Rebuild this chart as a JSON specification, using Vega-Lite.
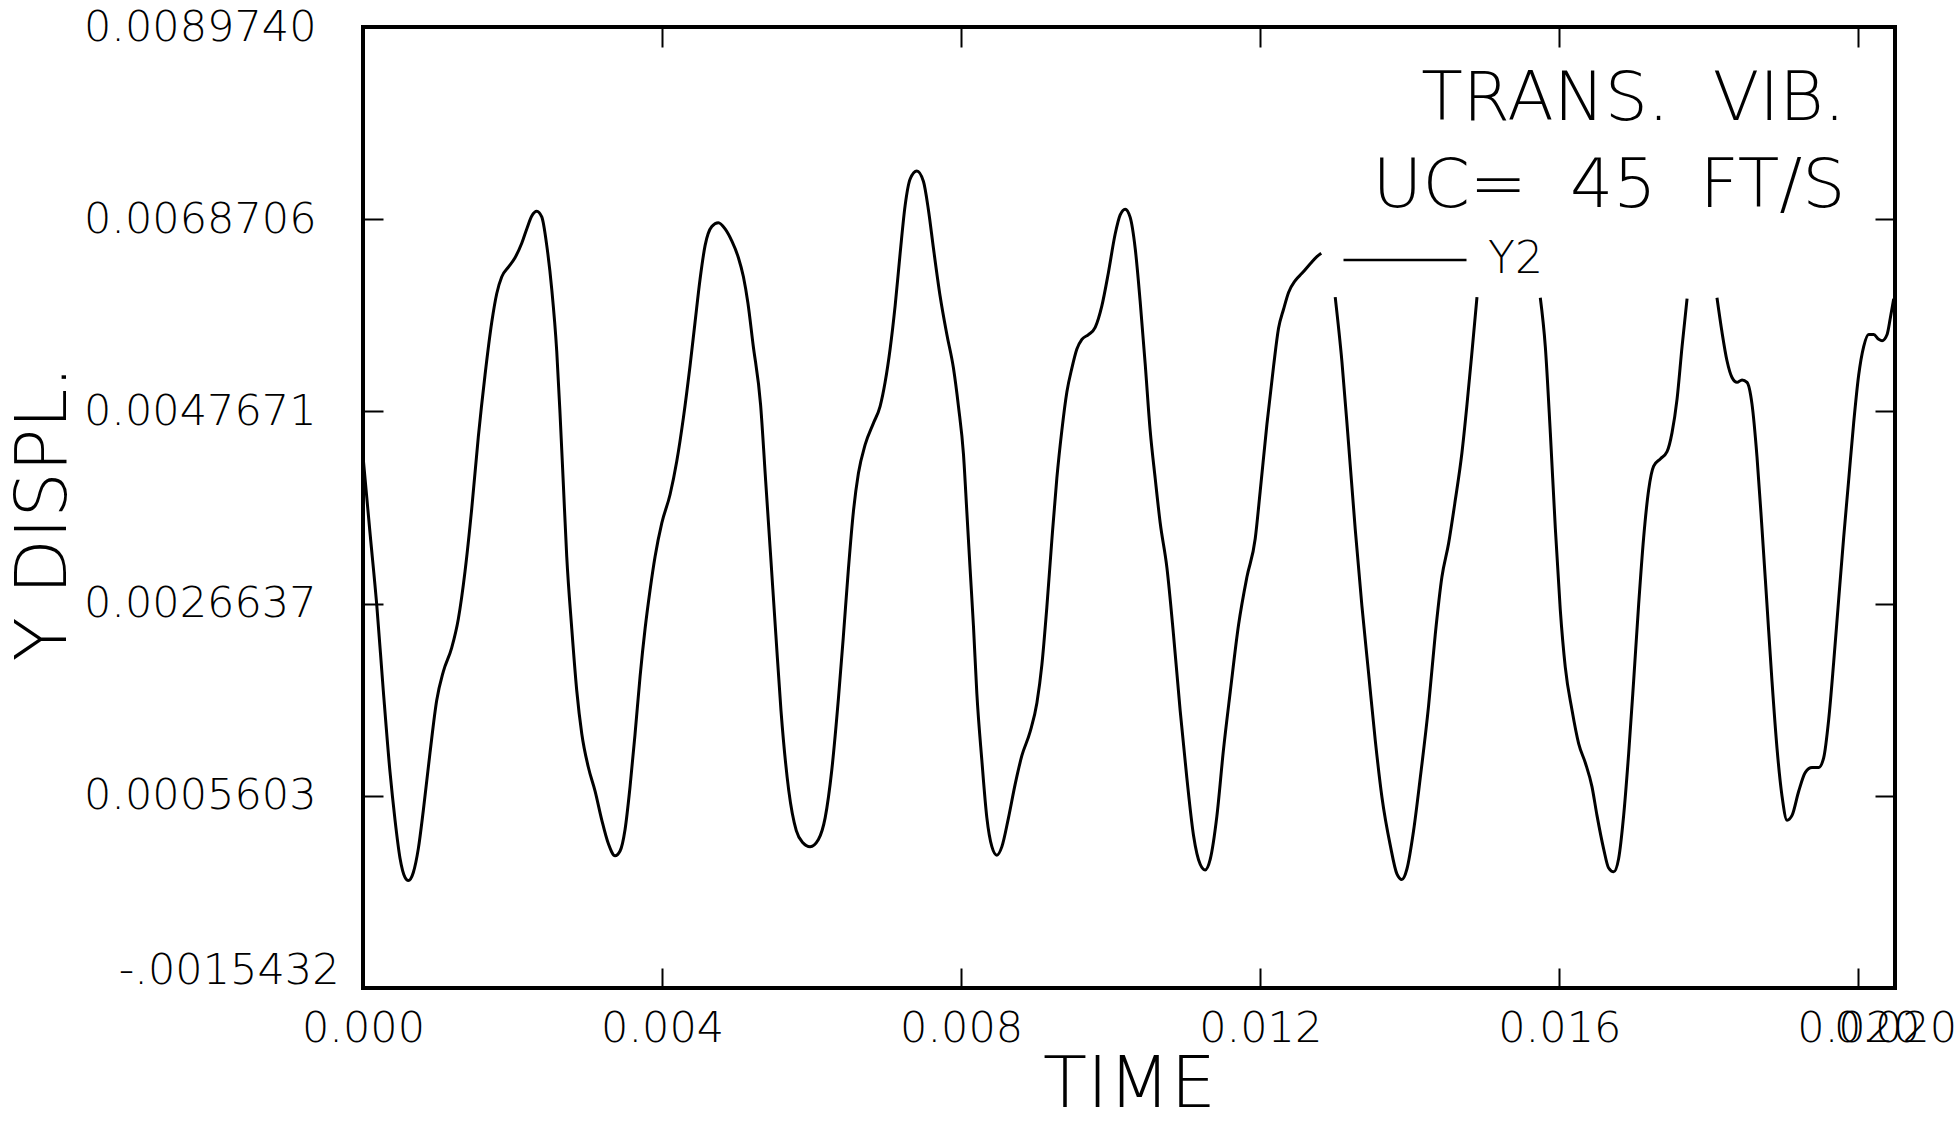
{
  "$schema": "https://vega.github.io/schema/vega-lite/v6.json",
  "width": 1532,
  "height": 961,
  "autosize": {"type": "none"},
  "padding": {"left": 363, "top": 27, "right": 61, "bottom": 133},
  "background": "white",
  "config": {
    "view": {"stroke": "black", "strokeWidth": 4},
    "font": "DejaVu Sans"
  },
  "resolve": {"axis": {"x": "independent", "y": "independent"}},
  "layer": [
    {
      "data": {"values": [
        {"t":0,"y":0.004277,"seg":1,"s":"Y2"},{"t":0.0000936,"y":0.003439,"seg":1,"s":"Y2"},{"t":0.0001833,"y":0.002654,"seg":1,"s":"Y2"},{"t":0.0002716,"y":0.00171,"seg":1,"s":"Y2"},{"t":0.0003612,"y":0.000821,"seg":1,"s":"Y2"},{"t":0.0004281,"y":0.000297,"seg":1,"s":"Y2"},{"t":0.000495,"y":-0.000122,"seg":1,"s":"Y2"},{"t":0.0005619,"y":-0.000332,"seg":1,"s":"Y2"},{"t":0.000606,"y":-0.000368,"seg":1,"s":"Y2"},{"t":0.000673,"y":-0.000279,"seg":1,"s":"Y2"},{"t":0.00074,"y":-0.000018,"seg":1,"s":"Y2"},{"t":0.000807,"y":0.000402,"seg":1,"s":"Y2"},{"t":0.000896,"y":0.00103,"seg":1,"s":"Y2"},{"t":0.000986,"y":0.001606,"seg":1,"s":"Y2"},{"t":0.001074,"y":0.00192,"seg":1,"s":"Y2"},{"t":0.001187,"y":0.002182,"seg":1,"s":"Y2"},{"t":0.001275,"y":0.002496,"seg":1,"s":"Y2"},{"t":0.001365,"y":0.003019,"seg":1,"s":"Y2"},{"t":0.001454,"y":0.0037,"seg":1,"s":"Y2"},{"t":0.001542,"y":0.004486,"seg":1,"s":"Y2"},{"t":0.001632,"y":0.005166,"seg":1,"s":"Y2"},{"t":0.001722,"y":0.005743,"seg":1,"s":"Y2"},{"t":0.001789,"y":0.006057,"seg":1,"s":"Y2"},{"t":0.001856,"y":0.00624,"seg":1,"s":"Y2"},{"t":0.001944,"y":0.006345,"seg":1,"s":"Y2"},{"t":0.002033,"y":0.006449,"seg":1,"s":"Y2"},{"t":0.002123,"y":0.006607,"seg":1,"s":"Y2"},{"t":0.00219,"y":0.006764,"seg":1,"s":"Y2"},{"t":0.002257,"y":0.006906,"seg":1,"s":"Y2"},{"t":0.002324,"y":0.006958,"seg":1,"s":"Y2"},{"t":0.002391,"y":0.006895,"seg":1,"s":"Y2"},{"t":0.002458,"y":0.006581,"seg":1,"s":"Y2"},{"t":0.002524,"y":0.006109,"seg":1,"s":"Y2"},{"t":0.002591,"y":0.005428,"seg":1,"s":"Y2"},{"t":0.002635,"y":0.004747,"seg":1,"s":"Y2"},{"t":0.00268,"y":0.003963,"seg":1,"s":"Y2"},{"t":0.002725,"y":0.003177,"seg":1,"s":"Y2"},{"t":0.002792,"y":0.002391,"seg":1,"s":"Y2"},{"t":0.002859,"y":0.00171,"seg":1,"s":"Y2"},{"t":0.002926,"y":0.00124,"seg":1,"s":"Y2"},{"t":0.003014,"y":0.000873,"seg":1,"s":"Y2"},{"t":0.003104,"y":0.000612,"seg":1,"s":"Y2"},{"t":0.003193,"y":0.000297,"seg":1,"s":"Y2"},{"t":0.003282,"y":0.000035,"seg":1,"s":"Y2"},{"t":0.003371,"y":-0.000096,"seg":1,"s":"Y2"},{"t":0.003438,"y":-0.000044,"seg":1,"s":"Y2"},{"t":0.003505,"y":0.000192,"seg":1,"s":"Y2"},{"t":0.003572,"y":0.000663,"seg":1,"s":"Y2"},{"t":0.003639,"y":0.00124,"seg":1,"s":"Y2"},{"t":0.003706,"y":0.001868,"seg":1,"s":"Y2"},{"t":0.003773,"y":0.002391,"seg":1,"s":"Y2"},{"t":0.003839,"y":0.00281,"seg":1,"s":"Y2"},{"t":0.003906,"y":0.003177,"seg":1,"s":"Y2"},{"t":0.003996,"y":0.003544,"seg":1,"s":"Y2"},{"t":0.004107,"y":0.003858,"seg":1,"s":"Y2"},{"t":0.004197,"y":0.004224,"seg":1,"s":"Y2"},{"t":0.004285,"y":0.004696,"seg":1,"s":"Y2"},{"t":0.004375,"y":0.005272,"seg":1,"s":"Y2"},{"t":0.004441,"y":0.005743,"seg":1,"s":"Y2"},{"t":0.004508,"y":0.006214,"seg":1,"s":"Y2"},{"t":0.004575,"y":0.006581,"seg":1,"s":"Y2"},{"t":0.004665,"y":0.00679,"seg":1,"s":"Y2"},{"t":0.004753,"y":0.006832,"seg":1,"s":"Y2"},{"t":0.004843,"y":0.006764,"seg":1,"s":"Y2"},{"t":0.004932,"y":0.006633,"seg":1,"s":"Y2"},{"t":0.005021,"y":0.006449,"seg":1,"s":"Y2"},{"t":0.005088,"y":0.006240,"seg":1,"s":"Y2"},{"t":0.005148,"y":0.005953,"seg":1,"s":"Y2"},{"t":0.005216,"y":0.005505,"seg":1,"s":"Y2"},{"t":0.005318,"y":0.004837,"seg":1,"s":"Y2"},{"t":0.005386,"y":0.004,"seg":1,"s":"Y2"},{"t":0.005454,"y":0.003163,"seg":1,"s":"Y2"},{"t":0.005522,"y":0.00232,"seg":1,"s":"Y2"},{"t":0.005591,"y":0.001488,"seg":1,"s":"Y2"},{"t":0.005694,"y":0.00062,"seg":1,"s":"Y2"},{"t":0.005795,"y":0.00018,"seg":1,"s":"Y2"},{"t":0.00588,"y":0.00005,"seg":1,"s":"Y2"},{"t":0.00598,"y":0.000004,"seg":1,"s":"Y2"},{"t":0.006091,"y":0.000083,"seg":1,"s":"Y2"},{"t":0.006181,"y":0.000319,"seg":1,"s":"Y2"},{"t":0.00627,"y":0.000843,"seg":1,"s":"Y2"},{"t":0.006359,"y":0.001628,"seg":1,"s":"Y2"},{"t":0.006425,"y":0.002309,"seg":1,"s":"Y2"},{"t":0.006492,"y":0.003041,"seg":1,"s":"Y2"},{"t":0.006559,"y":0.003671,"seg":1,"s":"Y2"},{"t":0.006626,"y":0.004089,"seg":1,"s":"Y2"},{"t":0.006716,"y":0.004403,"seg":1,"s":"Y2"},{"t":0.006827,"y":0.004639,"seg":1,"s":"Y2"},{"t":0.006916,"y":0.004822,"seg":1,"s":"Y2"},{"t":0.006983,"y":0.005085,"seg":1,"s":"Y2"},{"t":0.00705,"y":0.00545,"seg":1,"s":"Y2"},{"t":0.007117,"y":0.005922,"seg":1,"s":"Y2"},{"t":0.007184,"y":0.006497,"seg":1,"s":"Y2"},{"t":0.007251,"y":0.007022,"seg":1,"s":"Y2"},{"t":0.007318,"y":0.00731,"seg":1,"s":"Y2"},{"t":0.007407,"y":0.007398,"seg":1,"s":"Y2"},{"t":0.007496,"y":0.007283,"seg":1,"s":"Y2"},{"t":0.007563,"y":0.006969,"seg":1,"s":"Y2"},{"t":0.00763,"y":0.00655,"seg":1,"s":"Y2"},{"t":0.007719,"y":0.006027,"seg":1,"s":"Y2"},{"t":0.007809,"y":0.005608,"seg":1,"s":"Y2"},{"t":0.007897,"y":0.005241,"seg":1,"s":"Y2"},{"t":0.007964,"y":0.004822,"seg":1,"s":"Y2"},{"t":0.008031,"y":0.004299,"seg":1,"s":"Y2"},{"t":0.008076,"y":0.003671,"seg":1,"s":"Y2"},{"t":0.00812,"y":0.003041,"seg":1,"s":"Y2"},{"t":0.008165,"y":0.002413,"seg":1,"s":"Y2"},{"t":0.00821,"y":0.00168,"seg":1,"s":"Y2"},{"t":0.008277,"y":0.000948,"seg":1,"s":"Y2"},{"t":0.008344,"y":0.000319,"seg":1,"s":"Y2"},{"t":0.008411,"y":0.000004,"seg":1,"s":"Y2"},{"t":0.008478,"y":-0.00009,"seg":1,"s":"Y2"},{"t":0.008545,"y":0.000004,"seg":1,"s":"Y2"},{"t":0.008633,"y":0.000319,"seg":1,"s":"Y2"},{"t":0.008722,"y":0.000685,"seg":1,"s":"Y2"},{"t":0.008812,"y":0.000999,"seg":1,"s":"Y2"},{"t":0.008923,"y":0.001262,"seg":1,"s":"Y2"},{"t":0.009013,"y":0.001576,"seg":1,"s":"Y2"},{"t":0.00908,"y":0.001995,"seg":1,"s":"Y2"},{"t":0.009146,"y":0.002623,"seg":1,"s":"Y2"},{"t":0.009213,"y":0.003357,"seg":1,"s":"Y2"},{"t":0.00928,"y":0.004037,"seg":1,"s":"Y2"},{"t":0.009347,"y":0.00456,"seg":1,"s":"Y2"},{"t":0.009414,"y":0.00498,"seg":1,"s":"Y2"},{"t":0.009481,"y":0.005241,"seg":1,"s":"Y2"},{"t":0.009548,"y":0.00545,"seg":1,"s":"Y2"},{"t":0.009615,"y":0.005555,"seg":1,"s":"Y2"},{"t":0.009703,"y":0.005608,"seg":1,"s":"Y2"},{"t":0.009793,"y":0.005687,"seg":1,"s":"Y2"},{"t":0.009882,"y":0.005922,"seg":1,"s":"Y2"},{"t":0.00997,"y":0.006288,"seg":1,"s":"Y2"},{"t":0.01006,"y":0.006708,"seg":1,"s":"Y2"},{"t":0.010127,"y":0.006917,"seg":1,"s":"Y2"},{"t":0.010194,"y":0.00698,"seg":1,"s":"Y2"},{"t":0.010261,"y":0.00689,"seg":1,"s":"Y2"},{"t":0.010328,"y":0.00655,"seg":1,"s":"Y2"},{"t":0.010394,"y":0.005974,"seg":1,"s":"Y2"},{"t":0.010461,"y":0.005294,"seg":1,"s":"Y2"},{"t":0.010528,"y":0.00456,"seg":1,"s":"Y2"},{"t":0.010595,"y":0.004037,"seg":1,"s":"Y2"},{"t":0.010662,"y":0.003548,"seg":1,"s":"Y2"},{"t":0.010752,"y":0.003057,"seg":1,"s":"Y2"},{"t":0.01084,"y":0.002325,"seg":1,"s":"Y2"},{"t":0.01093,"y":0.001487,"seg":1,"s":"Y2"},{"t":0.011019,"y":0.000753,"seg":1,"s":"Y2"},{"t":0.011108,"y":0.000126,"seg":1,"s":"Y2"},{"t":0.011197,"y":-0.000189,"seg":1,"s":"Y2"},{"t":0.011264,"y":-0.000251,"seg":1,"s":"Y2"},{"t":0.011331,"y":-0.000136,"seg":1,"s":"Y2"},{"t":0.01142,"y":0.000335,"seg":1,"s":"Y2"},{"t":0.011509,"y":0.001068,"seg":1,"s":"Y2"},{"t":0.011599,"y":0.001696,"seg":1,"s":"Y2"},{"t":0.01171,"y":0.002429,"seg":1,"s":"Y2"},{"t":0.011822,"y":0.002954,"seg":1,"s":"Y2"},{"t":0.011933,"y":0.003373,"seg":1,"s":"Y2"},{"t":0.012,"y":0.003896,"seg":1,"s":"Y2"},{"t":0.01209,"y":0.004629,"seg":1,"s":"Y2"},{"t":0.012178,"y":0.005257,"seg":1,"s":"Y2"},{"t":0.012245,"y":0.005676,"seg":1,"s":"Y2"},{"t":0.012312,"y":0.005885,"seg":1,"s":"Y2"},{"t":0.012379,"y":0.006069,"seg":1,"s":"Y2"},{"t":0.012468,"y":0.006199,"seg":1,"s":"Y2"},{"t":0.012558,"y":0.006278,"seg":1,"s":"Y2"},{"t":0.012669,"y":0.006383,"seg":1,"s":"Y2"},{"t":0.012758,"y":0.006462,"seg":1,"s":"Y2"},{"t":0.012816,"y":0.006498,"seg":1,"s":"Y2"},
        {"t":0.013003,"y":0.006017,"seg":2,"s":"Y2"},{"t":0.013093,"y":0.00531,"seg":2,"s":"Y2"},{"t":0.013181,"y":0.004419,"seg":2,"s":"Y2"},{"t":0.013271,"y":0.003477,"seg":2,"s":"Y2"},{"t":0.01336,"y":0.002639,"seg":2,"s":"Y2"},{"t":0.013449,"y":0.001906,"seg":2,"s":"Y2"},{"t":0.013538,"y":0.001173,"seg":2,"s":"Y2"},{"t":0.013628,"y":0.000545,"seg":2,"s":"Y2"},{"t":0.013739,"y":0.00002,"seg":2,"s":"Y2"},{"t":0.013828,"y":-0.000294,"seg":2,"s":"Y2"},{"t":0.013895,"y":-0.000356,"seg":2,"s":"Y2"},{"t":0.013962,"y":-0.000241,"seg":2,"s":"Y2"},{"t":0.014051,"y":0.000178,"seg":2,"s":"Y2"},{"t":0.01414,"y":0.000753,"seg":2,"s":"Y2"},{"t":0.014251,"y":0.001539,"seg":2,"s":"Y2"},{"t":0.014341,"y":0.002325,"seg":2,"s":"Y2"},{"t":0.01443,"y":0.002954,"seg":2,"s":"Y2"},{"t":0.014519,"y":0.00332,"seg":2,"s":"Y2"},{"t":0.014608,"y":0.003791,"seg":2,"s":"Y2"},{"t":0.014698,"y":0.004315,"seg":2,"s":"Y2"},{"t":0.014765,"y":0.004838,"seg":2,"s":"Y2"},{"t":0.014832,"y":0.005415,"seg":2,"s":"Y2"},{"t":0.014899,"y":0.006017,"seg":2,"s":"Y2"},
        {"t":0.015746,"y":0.006011,"seg":3,"s":"Y2"},{"t":0.015813,"y":0.005477,"seg":3,"s":"Y2"},{"t":0.01588,"y":0.004535,"seg":3,"s":"Y2"},{"t":0.015947,"y":0.003488,"seg":3,"s":"Y2"},{"t":0.016013,"y":0.002598,"seg":3,"s":"Y2"},{"t":0.01608,"y":0.001969,"seg":3,"s":"Y2"},{"t":0.01617,"y":0.001498,"seg":3,"s":"Y2"},{"t":0.016259,"y":0.001131,"seg":3,"s":"Y2"},{"t":0.016348,"y":0.000922,"seg":3,"s":"Y2"},{"t":0.016437,"y":0.000661,"seg":3,"s":"Y2"},{"t":0.016504,"y":0.000346,"seg":3,"s":"Y2"},{"t":0.016593,"y":-0.00002,"seg":3,"s":"Y2"},{"t":0.01666,"y":-0.00023,"seg":3,"s":"Y2"},{"t":0.016727,"y":-0.000272,"seg":3,"s":"Y2"},{"t":0.016794,"y":-0.000125,"seg":3,"s":"Y2"},{"t":0.016861,"y":0.000346,"seg":3,"s":"Y2"},{"t":0.016928,"y":0.001026,"seg":3,"s":"Y2"},{"t":0.016994,"y":0.001812,"seg":3,"s":"Y2"},{"t":0.017061,"y":0.00265,"seg":3,"s":"Y2"},{"t":0.017128,"y":0.003384,"seg":3,"s":"Y2"},{"t":0.017195,"y":0.003907,"seg":3,"s":"Y2"},{"t":0.017262,"y":0.004168,"seg":3,"s":"Y2"},{"t":0.017351,"y":0.004247,"seg":3,"s":"Y2"},{"t":0.017441,"y":0.004326,"seg":3,"s":"Y2"},{"t":0.017508,"y":0.004535,"seg":3,"s":"Y2"},{"t":0.017575,"y":0.004901,"seg":3,"s":"Y2"},{"t":0.017642,"y":0.005477,"seg":3,"s":"Y2"},{"t":0.017709,"y":0.006001,"seg":3,"s":"Y2"},
        {"t":0.018109,"y":0.006011,"seg":4,"s":"Y2"},{"t":0.018176,"y":0.005635,"seg":4,"s":"Y2"},{"t":0.018243,"y":0.005321,"seg":4,"s":"Y2"},{"t":0.01831,"y":0.005138,"seg":4,"s":"Y2"},{"t":0.018377,"y":0.005085,"seg":4,"s":"Y2"},{"t":0.018444,"y":0.005112,"seg":4,"s":"Y2"},{"t":0.018511,"y":0.005085,"seg":4,"s":"Y2"},{"t":0.018577,"y":0.004849,"seg":4,"s":"Y2"},{"t":0.018644,"y":0.004273,"seg":4,"s":"Y2"},{"t":0.018711,"y":0.003488,"seg":4,"s":"Y2"},{"t":0.018778,"y":0.00265,"seg":4,"s":"Y2"},{"t":0.018845,"y":0.001812,"seg":4,"s":"Y2"},{"t":0.018912,"y":0.001079,"seg":4,"s":"Y2"},{"t":0.018979,"y":0.000556,"seg":4,"s":"Y2"},{"t":0.019046,"y":0.000294,"seg":4,"s":"Y2"},{"t":0.019113,"y":0.000346,"seg":4,"s":"Y2"},{"t":0.019201,"y":0.000608,"seg":4,"s":"Y2"},{"t":0.019291,"y":0.000817,"seg":4,"s":"Y2"},{"t":0.01938,"y":0.00087,"seg":4,"s":"Y2"},{"t":0.019469,"y":0.00087,"seg":4,"s":"Y2"},{"t":0.019536,"y":0.000975,"seg":4,"s":"Y2"},{"t":0.019603,"y":0.001393,"seg":4,"s":"Y2"},{"t":0.01967,"y":0.002022,"seg":4,"s":"Y2"},{"t":0.019736,"y":0.002703,"seg":4,"s":"Y2"},{"t":0.019803,"y":0.003384,"seg":4,"s":"Y2"},{"t":0.01987,"y":0.004012,"seg":4,"s":"Y2"},{"t":0.019937,"y":0.00464,"seg":4,"s":"Y2"},{"t":0.020004,"y":0.005163,"seg":4,"s":"Y2"},{"t":0.020071,"y":0.005477,"seg":4,"s":"Y2"},{"t":0.020138,"y":0.005609,"seg":4,"s":"Y2"},{"t":0.020205,"y":0.005609,"seg":4,"s":"Y2"},{"t":0.020272,"y":0.005556,"seg":4,"s":"Y2"},{"t":0.020317,"y":0.00554,"seg":4,"s":"Y2"},{"t":0.020384,"y":0.005609,"seg":4,"s":"Y2"},{"t":0.020428,"y":0.005792,"seg":4,"s":"Y2"},{"t":0.020473,"y":0.006001,"seg":4,"s":"Y2"}
      ]},
      "mark": {"type": "line", "interpolate": "monotone", "strokeWidth": 3},
      "encoding": {
        "x": {
          "field": "t", "type": "quantitative",
          "scale": {"domain": [0, 0.02049], "nice": false, "zero": false},
          "axis": {
            "orient": "bottom",
            "values": [0, 0.004, 0.008, 0.012, 0.016, 0.02, 0.02049],
            "format": ".3f",
            "title": "TIME",
            "domain": false, "grid": false,
            "tickSize": -20, "tickWidth": 2, "tickColor": "black",
            "labelFont": "DejaVu Sans", "labelFontSize": 43, "labelFontWeight": 200, "labelColor": "black",
            "labelPadding": 39, "labelFlush": false, "labelOverlap": false, "labelLimit": 400,
            "titleFont": "DejaVu Sans", "titleFontSize": 72, "titleFontWeight": 200, "titleColor": "black",
            "titleBaseline": "alphabetic", "titleY": 118
          }
        },
        "y": {
          "field": "y", "type": "quantitative",
          "scale": {"domain": [-0.0015432, 0.008974], "nice": false, "zero": false},
          "axis": {
            "orient": "left",
            "values": [-0.0015432, 0.0005603, 0.0026637, 0.0047671, 0.0068706, 0.008974],
            "labelExpr": "datum.value < 0 ? '-' + substring(format(-datum.value, '.7f'), 1) : format(datum.value, '.7f')",
            "title": "Y DISPL.",
            "domain": false, "grid": false,
            "tickSize": -20, "tickWidth": 2, "tickColor": "black",
            "labelFont": "DejaVu Sans", "labelFontSize": 43, "labelFontWeight": 200, "labelColor": "black",
            "labelPadding": {"condition": {"test": "datum.value < 0", "value": 44}, "value": 67},
            "labelOffset": {"condition": {"test": "datum.value < 0", "value": -18}, "value": 0},
            "labelFlush": false, "labelOverlap": false, "labelLimit": 400,
            "titleFont": "DejaVu Sans", "titleFontSize": 72, "titleFontWeight": 200, "titleColor": "black",
            "titleAngle": 270, "titleAlign": "center", "titleBaseline": "alphabetic",
            "titleX": -298, "titleY": 486
          }
        },
        "color": {
          "field": "s", "type": "nominal",
          "scale": {"range": ["black"]},
          "legend": {
            "orient": "none", "legendX": 979, "legendY": 170, "title": null,
            "symbolType": "stroke", "symbolSize": 15129, "symbolStrokeWidth": 2.5, "symbolStrokeColor": "black",
            "labelFont": "DejaVu Sans", "labelFontSize": 44, "labelFontWeight": 200, "labelColor": "black",
            "labelOffset": 20, "padding": 0
          }
        },
        "detail": {"field": "seg", "type": "nominal"}
      }
    },
    {
      "data": {"values": [
        {"t": 0.019826, "y": 0.0079562, "label": "TRANS.\u00a0 VIB."},
        {"t": 0.019826, "y": 0.0070041, "label": "UC=\u00a0 45\u00a0 FT/S"}
      ]},
      "mark": {"type": "text", "align": "right", "baseline": "alphabetic", "font": "DejaVu Sans", "fontSize": 68, "fontWeight": 200, "color": "black"},
      "encoding": {
        "x": {
          "field": "t", "type": "quantitative",
          "scale": {"domain": [0, 0.02049], "nice": false, "zero": false},
          "axis": {"orient": "top", "values": [0, 0.004, 0.008, 0.012, 0.016, 0.02], "labels": false, "title": null, "domain": false, "grid": false, "tickSize": -20, "tickWidth": 2, "tickColor": "black"}
        },
        "y": {
          "field": "y", "type": "quantitative",
          "scale": {"domain": [-0.0015432, 0.008974], "nice": false, "zero": false},
          "axis": {"orient": "right", "values": [-0.0015432, 0.0005603, 0.0026637, 0.0047671, 0.0068706, 0.008974], "labels": false, "title": null, "domain": false, "grid": false, "tickSize": -20, "tickWidth": 2, "tickColor": "black"}
        },
        "text": {"field": "label", "type": "nominal"}
      }
    }
  ]
}
